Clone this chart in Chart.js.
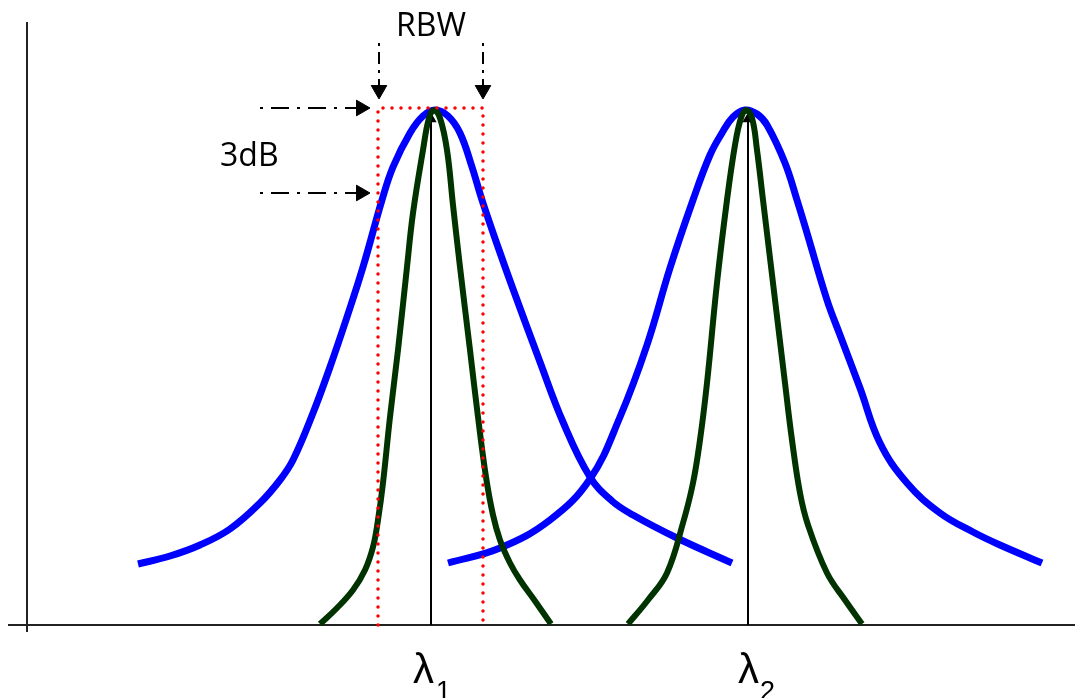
<!DOCTYPE html>
<html>
<head>
<meta charset="utf-8">
<title>RBW</title>
<script src="https://cdn.jsdelivr.net/npm/chart.js@4/dist/chart.umd.min.js"></script>
<style>
  body { margin: 0; background: #fff; }
  canvas { display: block; }
</style>
</head>
<body>
<canvas id="rbwChart" width="1075" height="698"></canvas>
<script>
// wide (blue) spectra, x = wavelength (arb. units), y = amplitude (arb. units)
const blue1X = [138, 170, 200, 230, 260, 280, 293, 313, 330, 347, 363, 382, 393, 410, 423, 435, 448, 460, 472, 482, 498, 513, 540, 563, 590, 612, 633, 677, 732];
const blue1Y = [61, 69, 80, 96, 122, 145, 165, 212, 258, 308, 358, 425, 458, 492, 509, 515, 509, 492, 458, 425, 378, 336, 263, 203, 148, 124, 110, 87, 62];
const blue2X = [448, 500, 550, 590, 620, 647, 670, 693, 710, 722, 733, 745, 757, 767, 785, 797, 807, 827, 840, 860, 880, 907, 940, 973, 1000, 1042];
const blue2Y = [62, 77, 105, 146, 208, 280, 357, 425, 470, 492, 508, 515, 511, 500, 462, 425, 392, 325, 290, 237, 182, 142, 112, 93, 80, 62];

// narrow (green) spectra
const green1X = [320, 337, 353, 365, 373, 378, 383, 390, 398, 407, 413, 423, 429, 434, 440, 447, 453, 460, 470, 478, 486, 493, 500, 510, 520, 535, 551];
const green1Y = [1, 17, 35, 55, 78, 105, 142, 208, 275, 358, 412, 475, 507, 515, 507, 475, 420, 358, 275, 208, 148, 110, 85, 62, 45, 24, 1];
const green2X = [628, 648, 667, 683, 693, 700, 707, 717, 727, 735, 741, 746, 752, 757, 763, 773, 785, 792, 800, 808, 827, 845, 862];
const green2Y = [1, 25, 52, 102, 142, 185, 242, 342, 425, 480, 507, 515, 507, 475, 425, 342, 242, 185, 132, 100, 52, 25, 1];

// line centres
const lambdaX = [431, 748];
const lambdaTop = 506;

// RBW window
const rbwLeft = 378;
const rbwRight = 483;
const peakLevel = 517;
const level3dB = 432;

// axis ends
const axisX = 27;
const axisTop = 603;
const axisBottom = -7;
const axisLeft = 8;
const axisRight = 1075;

// annotation arrows: [x0, y0, x1, y1] (x1,y1 = arrow head centre)
const rbwArrows = [[379, 582, 379, 535], [483, 582, 483, 535]];
const dbArrows = [[260, peakLevel, 361, peakLevel], [260, level3dB, 361, level3dB]];

// text: [text, x, y, font, align]
const textLabels = [
    ["RBW", 431, 589, "32px 'Open Sans'", "center"],
    ["3dB", 220, 459, "32px 'Open Sans'", "left"],
    ["λ", 413, -58, "42px 'Liberation Sans'", "left"],
    ["1", 436, -75, "27px 'Liberation Sans'", "left"],
    ["λ", 738, -58, "42px 'Liberation Sans'", "left"],
    ["2", 760, -75, "27px 'Liberation Sans'", "left"]
];

const pts = (xs, ys) => xs.map((x, i) => ({ x: x, y: ys[i] }));

function curve(xs, ys, color, width, order) {
    return {
        data: pts(xs, ys),
        borderColor: color,
        borderWidth: width,
        pointRadius: 0,
        tension: 0.4,
        borderCapStyle: "butt",
        borderJoinStyle: "round",
        order: order
    };
}

function arrow(a, dash, rotation) {
    return {
        data: [{ x: a[0], y: a[1] }, { x: a[2], y: a[3] }],
        borderColor: "#000",
        borderWidth: 2,
        borderDash: dash,
        pointRadius: [0, 9],
        pointStyle: "triangle",
        pointRotation: rotation,
        pointBackgroundColor: "#000",
        pointBorderColor: "#000",
        pointBorderWidth: 1,
        tension: 0,
        order: 1
    };
}

const datasets = [];

// axes
datasets.push({
    data: [{ x: axisX, y: axisTop }, { x: axisX, y: axisBottom }],
    borderColor: "#222", borderWidth: 2, pointRadius: 0, tension: 0, order: 10
});
datasets.push({
    data: [{ x: axisLeft, y: 0 }, { x: axisRight, y: 0 }],
    borderColor: "#222", borderWidth: 2, pointRadius: 0, tension: 0, order: 10
});

// wide spectra
datasets.push(curve(blue1X, blue1Y, "#0000ff", 7, 6));
datasets.push(curve(blue2X, blue2Y, "#0000ff", 7, 6));

// centre lines with small heads
lambdaX.forEach(lx => {
    datasets.push({
        data: [{ x: lx, y: 0 }, { x: lx, y: lambdaTop }],
        borderColor: "#000",
        borderWidth: 2,
        pointRadius: [0, 4.5],
        pointStyle: "triangle",
        pointBackgroundColor: "#000",
        pointBorderColor: "#000",
        tension: 0,
        order: 5
    });
});

// narrow spectra
datasets.push(curve(green1X, green1Y, "#003300", 6, 4));
datasets.push(curve(green2X, green2Y, "#003300", 6, 4));

// RBW dotted box
datasets.push({
    data: [
        { x: rbwLeft, y: 0 }, { x: rbwLeft, y: peakLevel },
        { x: rbwRight, y: peakLevel }, { x: rbwRight, y: 0 }
    ],
    borderColor: "#ff0000",
    borderWidth: 3.5,
    borderDash: [0, 9],
    borderCapStyle: "round",
    pointRadius: 0,
    tension: 0,
    order: 2
});

// arrows
rbwArrows.forEach(a => datasets.push(arrow(a, [3, 6, 12, 6], 180)));
dbArrows.forEach(a => datasets.push(arrow(a, [3, 8, 18, 8], 90)));

const labelPlugin = {
    id: "textLabels",
    afterDatasetsDraw(chart) {
        const ctx = chart.ctx;
        const xs = chart.scales.x;
        const ys = chart.scales.y;
        ctx.save();
        ctx.fillStyle = "#000";
        ctx.textBaseline = "alphabetic";
        textLabels.forEach(t => {
            ctx.font = t[3];
            ctx.textAlign = t[4];
            ctx.fillText(t[0], xs.getPixelForValue(t[1]), ys.getPixelForValue(t[2]));
        });
        ctx.restore();
    }
};

new Chart(document.getElementById("rbwChart"), {
    type: "scatter",
    data: { datasets: datasets },
    options: {
        responsive: false,
        animation: false,
        events: [],
        showLine: true,
        layout: { padding: 0, autoPadding: false },
        scales: {
            x: { type: "linear", min: 0, max: 1075, display: false },
            y: { type: "linear", min: -73, max: 625, display: false }
        },
        plugins: {
            legend: { display: false },
            tooltip: { enabled: false }
        }
    },
    plugins: [labelPlugin]
});
</script>
</body>
</html>
